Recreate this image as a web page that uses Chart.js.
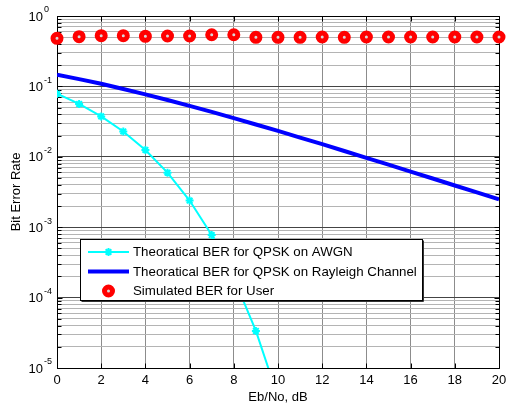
<!DOCTYPE html>
<html>
<head>
<meta charset="utf-8">
<script src="https://cdn.jsdelivr.net/npm/chart.js@4.4.1/dist/chart.umd.min.js"></script>
<style>
  html, body { margin: 0; padding: 0; background: #fff; }
  canvas { display: block; }
</style>
</head>
<body>
<canvas id="ber-chart" width="508" height="406"></canvas>
<script>
// Eb/No points (dB)
const ebNo = [0, 1, 2, 3, 4, 5, 6, 7, 8, 9, 10, 11, 12, 13, 14, 15, 16, 17, 18, 19, 20];

// theoretical QPSK over AWGN (only down to ~1e-6, rest is off the plot)
const awgnEbNo = [0, 1, 2, 3, 4, 5, 6, 7, 8, 9, 10];
const awgnBer = [0.0786, 0.0563, 0.0375, 0.0229, 0.0125, 0.00595, 0.00239, 0.000773, 0.000191, 0.0000336, 0.00000387];

// theoretical QPSK over Rayleigh fading
const rayleighBer = [0.146, 0.127, 0.109, 0.0919, 0.0771, 0.0642, 0.053, 0.0435, 0.0354, 0.0288, 0.0233,
  0.0187, 0.0151, 0.0121, 0.00966, 0.00773, 0.00616, 0.00492, 0.00391, 0.00312, 0.00248];

// simulated BER for the user
const simBer = [0.482, 0.508, 0.525, 0.525, 0.515, 0.52, 0.52, 0.542, 0.542, 0.498, 0.498,
  0.498, 0.503, 0.498, 0.503, 0.503, 0.503, 0.503, 0.503, 0.503, 0.503];

const xTicks = [0, 2, 4, 6, 8, 10, 12, 14, 16, 18, 20];
const yDecades = [1, 0.1, 0.01, 0.001, 0.0001, 0.00001];
const yExponents = ["0", "-1", "-2", "-3", "-4", "-5"];

const seriesLabels = [
  "Theoratical BER for QPSK on AWGN",
  "Theoratical BER for QPSK on Rayleigh Channel",
  "Simulated BER for User"
];

const FONT = "'Liberation Sans', Arial, sans-serif";

// every 1..9 step inside each decade, for grid + ticks
const yGrid = [];
for (let e = -5; e < 0; e++) {
  for (let k = 1; k <= 9; k++) yGrid.push(k * Math.pow(10, e));
}
yGrid.push(1);

function isDecade(v) {
  const l = Math.log10(v);
  return Math.abs(l - Math.round(l)) < 1e-9;
}

const toPoints = (xs, ys) => ys.map((y, i) => ({ x: xs[i], y: y }));

// axes box, inward ticks, labels and the boxed legend
const matlabAxes = {
  id: "matlabAxes",
  beforeDatasetsDraw(chart) {
    const { ctx, chartArea: a, scales } = chart;
    const L = Math.round(a.left) + 0.5, R = Math.round(a.right) + 0.5;
    const T = Math.round(a.top) + 0.5, B = Math.round(a.bottom) + 0.5;
    ctx.save();
    ctx.strokeStyle = "#000";
    ctx.lineWidth = 1;
    ctx.beginPath();
    ctx.rect(L, T, R - L, B - T);
    yGrid.forEach(v => {
      const y = Math.round(scales.y.getPixelForValue(v)) + 0.5;
      const len = isDecade(v) ? 5 : 4;
      ctx.moveTo(L, y); ctx.lineTo(L + len, y);
      ctx.moveTo(R, y); ctx.lineTo(R - len, y);
    });
    xTicks.forEach(v => {
      const x = Math.round(scales.x.getPixelForValue(v)) + 0.5;
      ctx.moveTo(x, B); ctx.lineTo(x, B - 5);
      ctx.moveTo(x, T); ctx.lineTo(x, T + 5);
    });
    ctx.stroke();
    ctx.restore();
  },
  afterDraw(chart) {
    const { ctx, chartArea: a, scales } = chart;
    ctx.save();
    ctx.fillStyle = "#000";

    // x tick labels
    ctx.font = "13px " + FONT;
    ctx.textAlign = "center";
    ctx.textBaseline = "top";
    xTicks.forEach(v => {
      ctx.fillText(String(v), scales.x.getPixelForValue(v), a.bottom + 6);
    });

    // y tick labels as 10^n
    yDecades.forEach((v, i) => {
      const y = scales.y.getPixelForValue(v);
      ctx.font = "13px " + FONT;
      ctx.textAlign = "right";
      ctx.textBaseline = "middle";
      ctx.fillText("10", a.left - 14, y + 1);
      ctx.font = "9px " + FONT;
      ctx.textAlign = "left";
      ctx.fillText(yExponents[i], a.left - 13, y - 6);
    });

    // axis titles
    ctx.font = "13px " + FONT;
    ctx.textAlign = "center";
    ctx.textBaseline = "middle";
    ctx.fillText("Eb/No, dB", (a.left + a.right) / 2, 397);
    ctx.save();
    ctx.translate(16, (a.top + a.bottom) / 2);
    ctx.rotate(-Math.PI / 2);
    ctx.fillText("Bit Error Rate", 0, 0);
    ctx.restore();

    // legend
    const box = { x: 80.5, y: 239.5, w: 342, h: 61 };
    ctx.fillStyle = "#fff";
    ctx.fillRect(box.x, box.y, box.w, box.h);
    ctx.strokeStyle = "#000";
    ctx.lineWidth = 1;
    ctx.strokeRect(box.x, box.y, box.w, box.h);
    // thin shadow on the right and bottom edges
    ctx.strokeStyle = "#333";
    ctx.beginPath();
    ctx.moveTo(box.x + box.w + 1, box.y + 1);
    ctx.lineTo(box.x + box.w + 1, box.y + box.h + 1);
    ctx.lineTo(box.x + 1, box.y + box.h + 1);
    ctx.stroke();

    const rows = [252, 271.5, 291];
    const x0 = 88, x1 = 129, xm = (x0 + x1) / 2;
    chart.data.datasets.forEach((ds, i) => {
      const y = rows[i];
      if (ds.showLine !== false) {
        ctx.strokeStyle = ds.borderColor;
        ctx.lineWidth = ds.borderWidth;
        ctx.beginPath();
        ctx.moveTo(x0, y);
        ctx.lineTo(x1, y);
        ctx.stroke();
      }
      if (ds.pointRadius > 0) {
        ctx.strokeStyle = ds.pointBorderColor;
        ctx.fillStyle = ds.pointBackgroundColor;
        ctx.lineWidth = ds.pointBorderWidth;
        Chart.helpers.drawPoint(ctx, {
          pointStyle: ds.pointStyle, radius: ds.pointRadius,
          rotation: 0, borderWidth: ds.pointBorderWidth
        }, xm, y);
      }
      ctx.fillStyle = "#000";
      ctx.font = "13.3px " + FONT;
      ctx.textAlign = "left";
      ctx.textBaseline = "middle";
      ctx.fillText(ds.label, 133, y + 0.5);
    });
    ctx.restore();
  }
};

new Chart(document.getElementById("ber-chart"), {
  type: "line",
  data: {
    datasets: [
      {
        label: seriesLabels[0],
        data: toPoints(awgnEbNo, awgnBer),
        borderColor: "#00ffff",
        borderWidth: 2,
        pointStyle: "star",
        pointRadius: 4,
        pointBorderWidth: 2,
        pointBorderColor: "#00ffff",
        pointBackgroundColor: "#00ffff",
        tension: 0,
        clip: 0,
        order: 2
      },
      {
        label: seriesLabels[1],
        data: toPoints(ebNo, rayleighBer),
        borderColor: "#0000ff",
        borderWidth: 4,
        pointRadius: 0,
        tension: 0,
        clip: 0,
        order: 1
      },
      {
        label: seriesLabels[2],
        data: toPoints(ebNo, simBer),
        showLine: false,
        pointStyle: "circle",
        pointRadius: 4,
        pointBorderWidth: 5,
        pointBorderColor: "#ff0000",
        pointBackgroundColor: "#d8d8d8",
        clip: false,
        order: 0
      }
    ]
  },
  options: {
    responsive: false,
    animation: false,
    devicePixelRatio: 1,
    layout: { padding: { left: 57, right: 5, top: 16, bottom: 38 } },
    plugins: { legend: { display: false }, tooltip: { enabled: false } },
    scales: {
      x: {
        type: "linear",
        min: 0,
        max: 20,
        afterBuildTicks: s => { s.ticks = xTicks.map(v => ({ value: v })); },
        ticks: { display: false },
        grid: { color: "#8c8c8c", lineWidth: 1, drawTicks: false },
        border: { display: false }
      },
      y: {
        type: "logarithmic",
        min: 0.00001,
        max: 1,
        afterBuildTicks: s => { s.ticks = yGrid.map(v => ({ value: v })); },
        ticks: { display: false },
        grid: {
          color: c => isDecade(c.tick.value) ? "#444444" : "#b4b4b4",
          lineWidth: 1,
          drawTicks: false
        },
        border: { display: false }
      }
    }
  },
  plugins: [matlabAxes]
});
</script>
</body>
</html>
